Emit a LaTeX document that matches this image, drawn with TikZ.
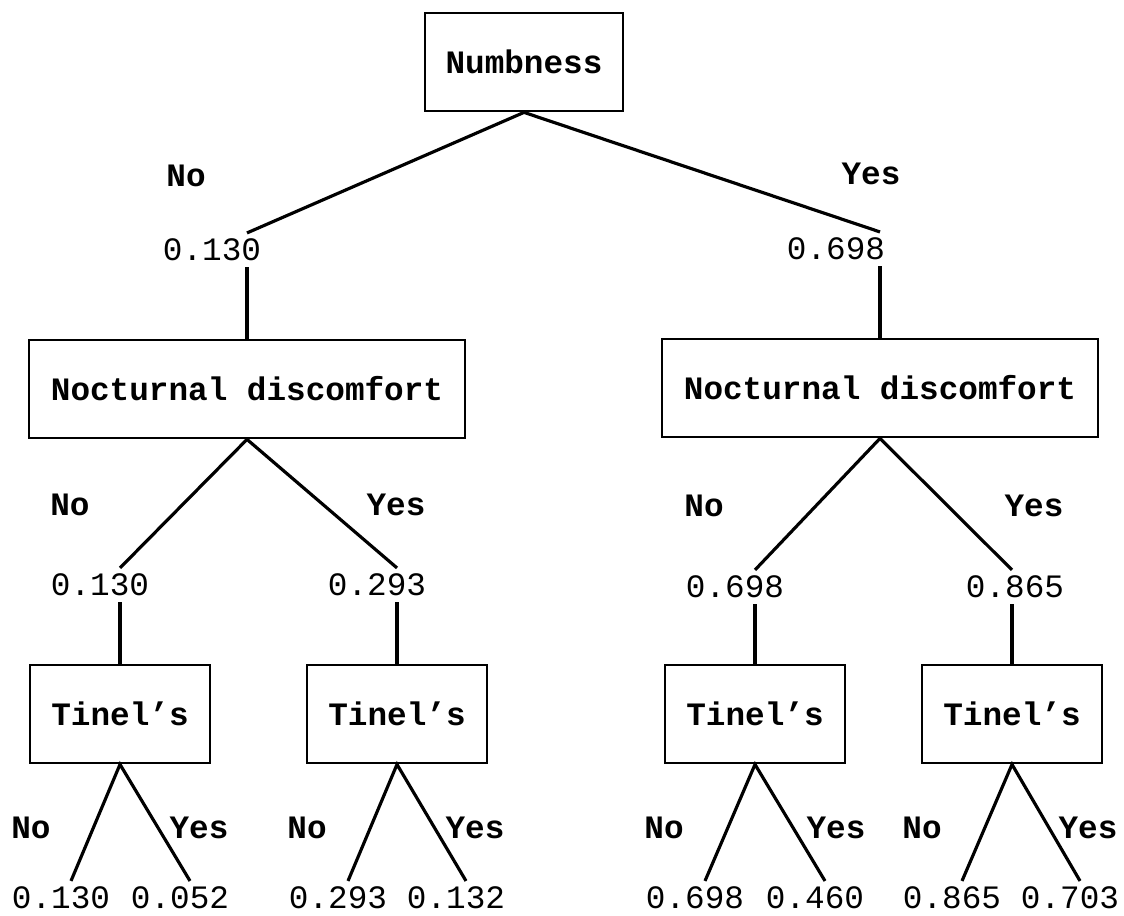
\documentclass[tikz,border=0pt]{standalone}
\usepackage{fontspec}
\setmainfont{Liberation Mono}
\begin{document}
\begin{tikzpicture}[x=0.02cm,y=-0.02cm,line width=1.8pt,
  font=\fontsize{18.6}{22}\selectfont,
  box/.style={draw,line width=1.6pt,minimum height=1.96cm,
    font=\fontsize{18.6}{22}\selectfont\bfseries},
  yn/.style={font=\fontsize{18.6}{22}\selectfont\bfseries},
  lbl/.style={inner sep=2.5pt}]
\useasboundingbox (0,0) rectangle (1124,915);
%
\node[box,minimum width=3.96cm] (numb) at (524,62) {Numbness};
\node[yn] (n0) at (186,176) {No};
\node[yn] (y0) at (871,174) {Yes};
\node[lbl] (pL) at (212,250) {0.130};
\node[lbl] (pR) at (836,249) {0.698};
\node[box,minimum width=8.72cm] (nocL) at (247,389) {Nocturnal discomfort};
\node[box,minimum width=8.72cm] (nocR) at (880,388) {Nocturnal discomfort};
\draw (pL.north -| nocL.north)--(numb.south)--(pR.north -| nocR.north);
\draw (pL.south -| nocL.north)--(nocL.north);
\draw (pR.south -| nocR.north)--(nocR.north);
%===========================
\node[yn] (nL) at (70,505) {No};
\node[yn] (yL) at (396,505) {Yes};
\node[lbl] (pL1) at (100,585) {0.130};
\node[lbl] (pL2) at (377,585) {0.293};
\node[box,minimum width=3.6cm] (tL1) at (120,714) {Tinel's};
\node[box,minimum width=3.6cm] (tL2) at (397,714) {Tinel's};
\draw (pL1.north -| tL1.north)--(nocL.south)--(pL2.north -| tL2.north);
\draw (pL1.south -| tL1.north)--(tL1.north);
\draw (pL2.south -| tL2.north)--(tL2.north);
%
\node[yn] (nR) at (704,506) {No};
\node[yn] (yR) at (1034,506) {Yes};
\node[lbl] (pR1) at (735,587) {0.698};
\node[lbl] (pR2) at (1015,587) {0.865};
\node[box,minimum width=3.6cm] (tR1) at (755,714) {Tinel's};
\node[box,minimum width=3.6cm] (tR2) at (1012,714) {Tinel's};
\draw (pR1.north -| tR1.north)--(nocR.south)--(pR2.north -| tR2.north);
\draw (pR1.south -| tR1.north)--(tR1.north);
\draw (pR2.south -| tR2.north)--(tR2.north);
%================================
\foreach \t/\xn/\xy/\xa/\xb/\va/\vb in {tL1/31/199/61/180/0.130/0.052,
  tL2/307/475/338/456/0.293/0.132,tR1/664/836/695/815/0.698/0.460,
  tR2/922/1088/952/1070/0.865/0.703}{
\node[yn] (\t-no) at (\xn,828) {No};
\node[yn] (\t-yes) at (\xy,828) {Yes};
\node[lbl] (\t-a) at (\xa,898) {\va};
\node[lbl] (\t-b) at (\xb,898) {\vb};
\draw ([xshift=0.2cm]\t-a.north)--(\t.south)--([xshift=0.2cm]\t-b.north);
}
\end{tikzpicture}
\end{document}
